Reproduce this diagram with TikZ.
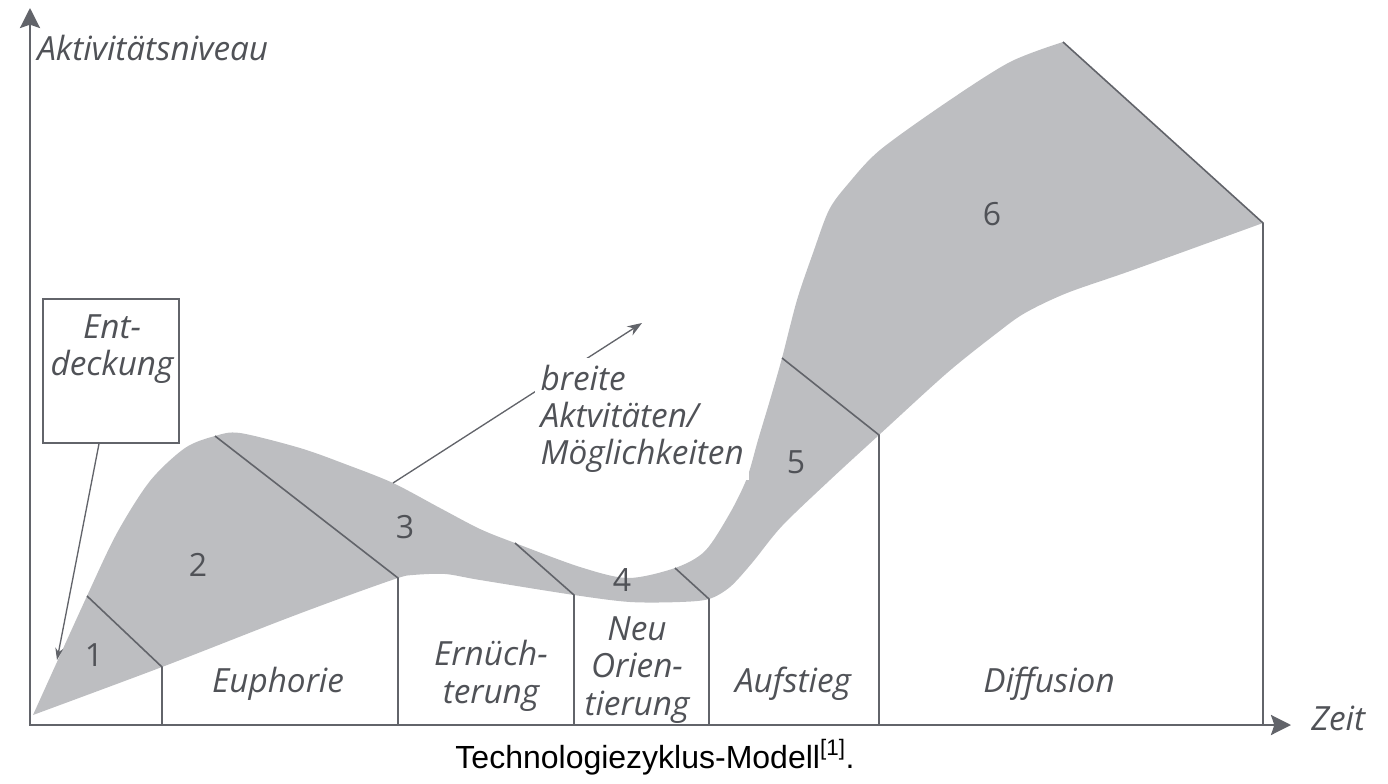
\documentclass[tikz,border=0pt]{standalone}
\usepackage{fontspec}
\usepackage{tikz}
\usetikzlibrary{arrows.meta}
\setmainfont{Open Sans}
\newfontfamily\capfont{Liberation Sans}
\definecolor{bandgray}{HTML}{BDBEC1}
\definecolor{linegray}{HTML}{62646A}
\definecolor{textgray}{HTML}{505257}

\begin{document}
\begin{tikzpicture}[x=0.75pt, y=-0.75pt,
    divider/.style={linegray, line width=1.2pt},
    pointer/.style={linegray, line width=1pt, -{Stealth[length=9pt,width=6pt]}},
    phase/.style={textgray, font=\fontsize{25}{28}\selectfont\itshape, align=center, inner sep=0pt},
    stage/.style={textgray, font=\fontsize{24}{28}\selectfont, inner sep=0pt}]

    \useasboundingbox (0,0) rectangle (1388,784);

    \coordinate (orig) at (30,725);
    \coordinate (ytip) at (30,8);
    \coordinate (xtip) at (1291,725);

    \coordinate (o) at (33,715);
    \coordinate (d1u) at (87,596);   \coordinate (d1l) at (162,667);
    \coordinate (d2u) at (215,436);  \coordinate (d2l) at (398,578);
    \coordinate (d3u) at (515,543);  \coordinate (d3l) at (574,595);
    \coordinate (d4u) at (675,568);  \coordinate (d4l) at (709,599);
    \coordinate (d5u) at (782,358);  \coordinate (d5l) at (879,435);
    \coordinate (d6u) at (1063,42);  \coordinate (d6l) at (1263,223);
    \coordinate (bru) at (393,483);  \coordinate (brtip) at (642,323);
    \coordinate (enttip) at (57,660);

    \fill[bandgray] plot[smooth] coordinates {(o) (d1u) (117,533) (150,481) (185,448) (d2u) (240,433) (300,448) (345,464) (bru) (440,508) (480,529) (d3u) (580,567) (628,578) (d4u) (705,551) (730,513) (747,478) (758,440) (770,400) (d5u) (797,300) (813,253) (829,210) (848,184) (880,150) (947,102) (1010,62) (d6u)}
        -- (d6l)
        -- plot[smooth] coordinates {(d6l) (1133,270) (1067,293) (1025,313) (997,333) (947,373) (d5l) (830,480) (782,526) (752,563) (730,587) (d4l) (680,602) (630,602) (d3l) (480,580) (445,574) (413,575) (d2l) (347,596) (280,621) (d1l) (o)}
        -- cycle;

    \draw[divider] (d1u) -- (d1l) -- (d1l |- orig);
    \draw[divider] (d2u) -- (d2l) -- (d2l |- orig);
    \draw[divider] (d3u) -- (d3l) -- (d3l |- orig);
    \draw[divider] (d4u) -- (d4l) -- (d4l |- orig);
    \draw[divider] (d5u) -- (d5l) -- (d5l |- orig);
    \draw[divider] (d6u) -- (d6l) -- (d6l |- orig);

    \draw[linegray, line width=2pt, {Stealth[length=15pt,width=15pt,inset=2.5pt]}-{Stealth[length=15pt,width=15pt,inset=2.5pt]}] (ytip) -- (orig) -- (xtip);

    \node[phase, anchor=base west] (ylabel) at (37,61) {Aktivitätsniveau};
    \node[phase, anchor=base west] (xlabel) at (1311,730) {Zeit};

    \node[stage] (s1) at (94,655) {1};
    \node[stage] (s2) at (198,565) {2};
    \node[stage] (s3) at (405,527) {3};
    \node[stage] (s4) at (622,580) {4};
    \node[stage] (s5) at (796,462) {5};
    \node[stage] (s6) at (992,214) {6};

    \node[phase, anchor=base] (euph) at (278,692) {Euphorie};
    \node[phase] (ernue) at (491,676) {Ernüch-\\terung};
    \node[phase] (neuor) at (637,670) {Neu\\Orien-\\tierung};
    \node[phase, anchor=base] (aufst) at (793,692) {Aufstieg};
    \node[phase, anchor=base] (diff) at (1049,692) {Diffusion};

    \node[draw=linegray, line width=1.2pt, minimum width=102pt, minimum height=108pt] (entbox) at (111,371) {};
    \node[phase] (enttext) at (112,349) {Ent-\\deckung};
    \draw[pointer] ([xshift=-9pt]entbox.south) -- (enttip);

    \draw[pointer, -{Stealth[length=11pt,width=8pt]}] (bru) -- (brtip);
    \node[phase, align=left, fill=white, anchor=north west, inner xsep=4pt, inner ysep=5pt] (breite) at (535,358) {breite\\Aktvitäten/\\Möglichkeiten};

    \node[font=\capfont\fontsize{24}{28}\selectfont, anchor=base] (caption) at (655,768) {Technologiezyklus-Modell\textsuperscript{[1]}.};
\end{tikzpicture}
\end{document}
